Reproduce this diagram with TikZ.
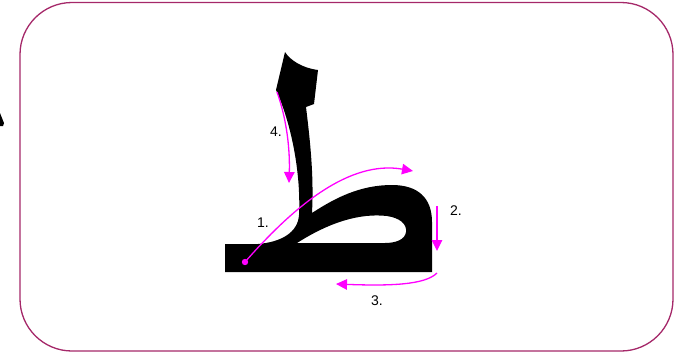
\documentclass[tikz,border=0pt]{standalone}
\usepackage{fontspec}
\setmainfont{Liberation Sans}
\usetikzlibrary{arrows.meta}
\definecolor{framecol}{RGB}{165,40,105}
\definecolor{strokecol}{RGB}{255,0,255}
\tikzset{
frameline/.style={draw=framecol,line width=1.3pt,rounded corners=52pt},
glyph/.style={fill=black,even odd rule},
strokearrow/.style={-{Triangle[length=11pt,width=10.5pt]},strokecol,line width=1.3pt},
startdot/.style={fill=strokecol},
steplabel/.style={font=\fontsize{14}{16}\selectfont,inner sep=0pt,text=black}
}
\begin{document}
\begin{tikzpicture}[x=1pt,y=-1pt]
\useasboundingbox (0,0) rectangle (686,356);
\draw[frameline] (20,2.5) rectangle (673,351);
\fill (0,113) -- (4,123) -- (3,126) -- (0,126) -- cycle;
\fill[glyph] (225,272) -- (225,244) -- (258,244)
  .. controls (282,242) and (298,232) .. (299,215)
  .. controls (301,175) and (292,125) .. (276,90)
  -- (285,52) .. controls (290,60) and (302,68) .. (318,70)
  -- (314,104) -- (306,107)
  .. controls (310,140) and (314,175) .. (312,213)
  .. controls (335,198) and (360,185) .. (392,185)
  .. controls (418,185) and (432,198) .. (432,222)
  -- (432,272) -- cycle
  (297,243) .. controls (330,222) and (360,213) .. (387,216)
  .. controls (400,218) and (407,224) .. (406,232)
  .. controls (405,240) and (395,243) .. (385,243) -- cycle;
\coordinate (s1a) at (245,262);
\coordinate (s1b) at (413,171);
\coordinate (s2a) at (437,206);
\coordinate (s2b) at (437,251);
\coordinate (s3a) at (437,273);
\coordinate (s3b) at (336,284);
\coordinate (s4a) at (277,92);
\coordinate (s4b) at (289,183);
\draw[strokearrow] (s1a) .. controls (295,205) and (350,160) .. (s1b);
\fill[startdot] (s1a) circle (3.2);
\draw[strokearrow] (s2a) -- (s2b);
\draw[strokearrow] (s3a) .. controls (425,285) and (390,286) .. (s3b);
\draw[strokearrow] (s4a) .. controls (287,120) and (290,150) .. (s4b);
\node[steplabel] (n1) at (263,223) {1.};
\node[steplabel] (n2) at (456,211) {2.};
\node[steplabel] (n3) at (377,301) {3.};
\node[steplabel] (n4) at (276,132) {4.};
\end{tikzpicture}
\end{document}
